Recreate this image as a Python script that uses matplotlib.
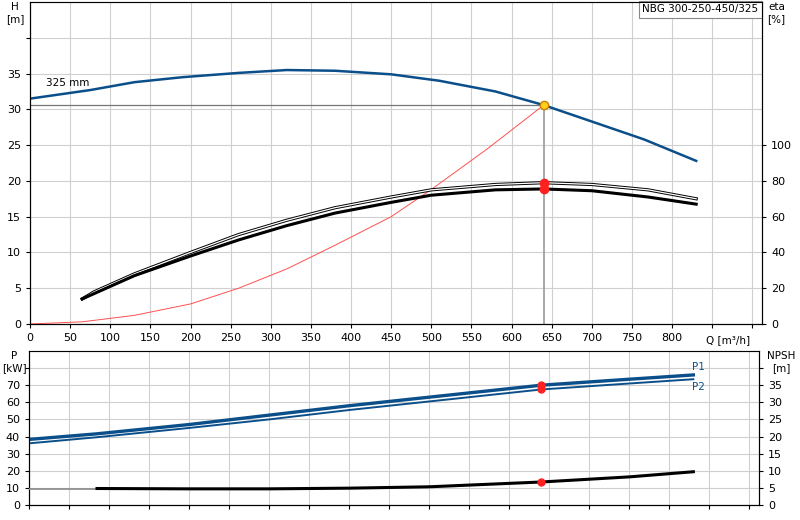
import matplotlib
matplotlib.use("Agg")
import matplotlib.pyplot as plt

q_h = [0, 75, 130, 190, 260, 320, 380, 450, 510, 580, 640, 700, 765, 830]
h = [31.5, 32.7, 33.8, 34.5, 35.1, 35.5, 35.4, 34.9, 34.0, 32.5, 30.6, 28.3, 25.8, 22.8]
q_e = [65, 80, 130, 200, 260, 320, 380, 450, 500, 580, 640, 700, 770, 830]
eta_up = [14, 18, 28, 40, 50, 58, 65, 71, 75, 78, 79, 78, 75, 70]
eta_lo = [14, 17, 27, 38, 47, 55, 62, 68, 72, 75, 75.5, 74.5, 71, 67]
q_sys = [0, 65, 130, 200, 260, 320, 380, 450, 500, 570, 640]
h_sys = [0, 0.3, 1.2, 2.8, 5, 7.7, 11, 15, 18.8, 24.5, 30.6]
q_p = [0, 83, 200, 300, 400, 500, 640, 750, 830]
p1 = [38.3, 41.5, 47, 52.5, 58, 63, 70, 73.5, 76]
p2 = [36, 39.5, 45, 50, 55.5, 60.5, 67.5, 71, 73.5]
q_n = [0, 85, 200, 300, 400, 500, 640, 750, 830]
npsh = [4.8, 4.8, 4.7, 4.7, 4.9, 5.3, 6.7, 8.2, 9.7]
q_op, h_op = 640, 30.6

blue = "#0b4f8a"
XMAX = 912
fig = plt.figure(figsize=(8, 5.2), dpi=100)
ax = fig.add_axes([0.0375, 0.377, 0.915, 0.619])
ax.set_xlim(0, XMAX); ax.set_ylim(0, 45)
ax.set_xticks(range(0, 901, 50))
ax.set_xticklabels([str(v) if v <= 800 else "" for v in range(0, 901, 50)])
ax.set_yticks(range(0, 41, 5))
ax.set_yticklabels([str(v) if v <= 35 else "" for v in range(0, 41, 5)])
ax.grid(True, color="#d0d0d0", lw=0.8)
ax.tick_params(labelsize=8, length=3)
ax.spines["top"].set_color("#999999")
ax.plot(q_h, h, color=blue, lw=1.8, zorder=3)
ax.plot(q_sys, h_sys, color="#ff5050", lw=0.7, zorder=3)
ax.plot([0, q_op], [h_op, h_op], color="#777777", lw=0.9, zorder=2)
ax.plot([q_op, q_op], [0, h_op], color="#999999", lw=1.2, zorder=2)
ax.plot(q_op, h_op, "o", color="#ffd020", mec="#d08000", ms=6, zorder=5)
ax.text(20, 33.2, "325 mm", fontsize=7.5)
ax.text(-0.02, 1.0, "H\n[m]", transform=ax.transAxes, ha="center", va="top", fontsize=7.5)
ax.text(870, -1.5, "Q [m³/h]", ha="center", va="top", fontsize=7.5)
ax.text(0.995, 0.993, "NBG 300-250-450/325", transform=ax.transAxes, ha="right", va="top",
        fontsize=7.5, bbox=dict(facecolor="white", edgecolor="#888888", lw=0.8, pad=2.5))
ax2 = ax.twinx()
ax2.set_ylim(0, 180)
ax2.set_yticks(range(0, 101, 20))
ax2.tick_params(labelsize=8, length=3)
ax2.plot(q_e, eta_up, color="black", lw=2.3, zorder=3)
ax2.plot(q_e, eta_up, color="white", lw=0.9, zorder=3)
ax2.plot(q_e, eta_lo, color="black", lw=2.2, zorder=3)
ax2.plot([q_op, q_op], [79, 75.5], "o", color="#ff2020", ms=6, zorder=5)
ax2.text(1.02, 1.0, "eta\n[%]", transform=ax2.transAxes, ha="center", va="top", fontsize=7.5)

bx = fig.add_axes([0.03625, 0.029, 0.9125, 0.296])
bx.set_xlim(0, XMAX); bx.set_ylim(0, 90)
bx.set_xticks(range(0, 901, 50)); bx.set_xticklabels([])
bx.set_yticks(range(0, 81, 10))
bx.set_yticklabels([str(v) if v <= 70 else "" for v in range(0, 81, 10)])
bx.grid(True, color="#d0d0d0", lw=0.8)
bx.tick_params(labelsize=8, length=3)
bx.spines["top"].set_color("#999999")
bx.plot(q_p, p1, color=blue, lw=2.4, zorder=3)
bx.plot(q_p, p2, color=blue, lw=1.4, zorder=3)
bx.plot([q_op, q_op], [70, 67.5], "o", color="#ff2020", ms=5, zorder=5)
bx.text(845, 77.5, "P1", color=blue, fontsize=7.5, va="bottom", ha="right")
bx.text(845, 72, "P2", color=blue, fontsize=7.5, va="top", ha="right")
bx.text(-0.02, 1.0, "P\n[kW]", transform=bx.transAxes, ha="center", va="top", fontsize=7.5)
bx2 = bx.twinx()
bx2.set_ylim(0, 45)
bx2.set_yticks(range(0, 41, 5))
bx2.set_yticklabels([str(v) if v <= 35 else "" for v in range(0, 41, 5)])
bx2.tick_params(labelsize=8, length=3)
bx2.plot(q_n[:2], npsh[:2], color="#888888", lw=1.2, zorder=3)
bx2.plot(q_n[1:], npsh[1:], color="black", lw=2.2, zorder=3)
bx2.plot(q_op, 6.7, "o", color="#ff2020", ms=5, zorder=5)
bx2.text(1.03, 1.0, "NPSH\n[m]", transform=bx2.transAxes, ha="center", va="top", fontsize=7.5)
fig.savefig("out.png", dpi=100)
